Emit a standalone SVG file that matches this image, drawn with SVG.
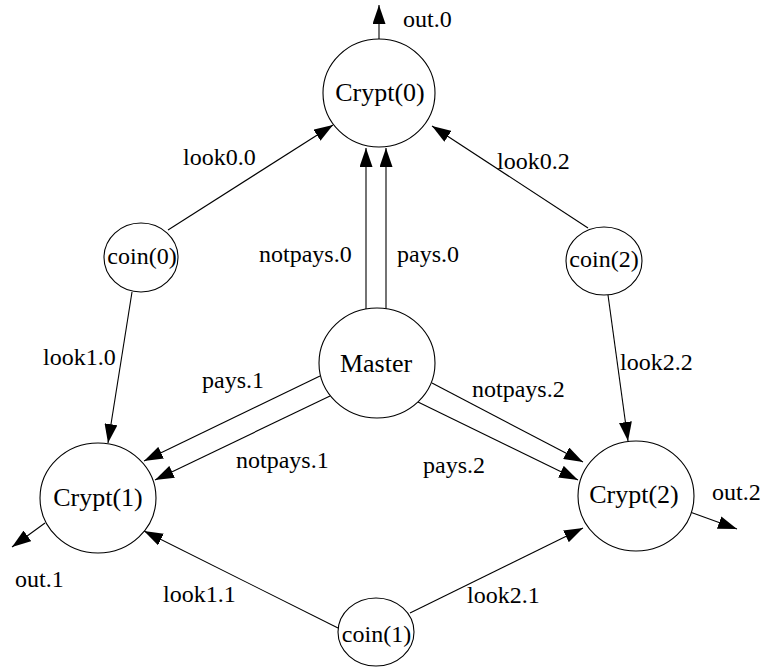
<svg xmlns="http://www.w3.org/2000/svg" width="761" height="667" viewBox="0 0 761 667">
  <defs>
    <marker id="ah" markerUnits="userSpaceOnUse" markerWidth="19" markerHeight="13" refX="19" refY="6.5" orient="auto">
      <path d="M0,0 L19,6.5 L0,13 z" fill="#000"/>
    </marker>
    <style>
      .node ellipse { fill: #fff; stroke: #000; stroke-width: 1.1; }
      .node text { font-family: "Liberation Serif", "Times New Roman", serif; fill: #000; text-anchor: middle; }
      .big { font-size: 26px; }
      .small { font-size: 24px; }
      .edges line { stroke: #000; stroke-width: 1.1; marker-end: url(#ah); }
      .lbl { font-family: "Liberation Serif", "Times New Roman", serif; font-size: 24px; fill: #000; }
    </style>
  </defs>
  <rect width="761" height="667" fill="#fff"/>

  <!-- connectors -->
  <g id="edges" class="edges">
    <line x1="379" y1="39" x2="379" y2="5"/>
    <line x1="168" y1="230" x2="333" y2="125"/>
    <line x1="588" y1="228" x2="432" y2="126"/>
    <line x1="366" y1="309" x2="366" y2="148"/>
    <line x1="386" y1="309" x2="386" y2="148"/>
    <line x1="132" y1="292" x2="108" y2="443"/>
    <line x1="608" y1="295" x2="628" y2="441"/>
    <line x1="320" y1="376" x2="144" y2="461"/>
    <line x1="330" y1="396" x2="155" y2="480"/>
    <line x1="432" y1="383" x2="583" y2="462"/>
    <line x1="418" y1="402" x2="578" y2="480"/>
    <line x1="45" y1="523" x2="12" y2="547"/>
    <line x1="690" y1="512" x2="737" y2="529"/>
    <line x1="338" y1="628" x2="144" y2="531"/>
    <line x1="410" y1="613" x2="583" y2="528"/>
  </g>

  <!-- connector labels -->
  <g id="edge-labels" class="lbl">
    <text x="403" y="27">out.0</text>
    <text x="183" y="165">look0.0</text>
    <text x="497" y="169">look0.2</text>
    <text x="259" y="262">notpays.0</text>
    <text x="397" y="262">pays.0</text>
    <text x="43" y="365">look1.0</text>
    <text x="620" y="370">look2.2</text>
    <text x="202" y="388">pays.1</text>
    <text x="472" y="397">notpays.2</text>
    <text x="236" y="468">notpays.1</text>
    <text x="423" y="473">pays.2</text>
    <text x="712" y="500">out.2</text>
    <text x="15" y="587">out.1</text>
    <text x="163" y="602">look1.1</text>
    <text x="467" y="603">look2.1</text>
  </g>

  <!-- nodes -->
  <g id="crypt0" class="node">
    <ellipse cx="379" cy="93" rx="56" ry="54"/>
    <text class="big" x="380" y="101">Crypt(0)</text>
  </g>
  <g id="crypt1" class="node">
    <ellipse cx="98" cy="498" rx="58" ry="55"/>
    <text class="big" x="98" y="506">Crypt(1)</text>
  </g>
  <g id="crypt2" class="node">
    <ellipse cx="636" cy="496" rx="58" ry="55"/>
    <text class="big" x="634" y="503">Crypt(2)</text>
  </g>
  <g id="master" class="node">
    <ellipse cx="377" cy="363" rx="58" ry="55"/>
    <text class="big" x="376" y="372">Master</text>
  </g>
  <g id="coin0" class="node">
    <ellipse cx="141" cy="257.5" rx="37" ry="34.5"/>
    <text class="small" x="142" y="264">coin(0)</text>
  </g>
  <g id="coin2" class="node">
    <ellipse cx="604" cy="261" rx="38" ry="34"/>
    <text class="small" x="604" y="267">coin(2)</text>
  </g>
  <g id="coin1" class="node">
    <ellipse cx="376" cy="632" rx="38" ry="34"/>
    <text class="small" x="376.5" y="642">coin(1)</text>
  </g>
</svg>
